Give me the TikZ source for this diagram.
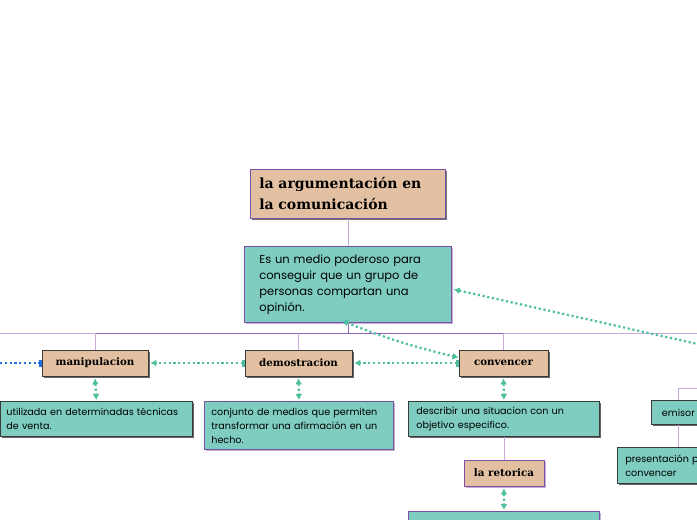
\documentclass[tikz,border=0pt]{standalone}
\usepackage{fontspec}
\setmainfont{Poppins}
\newfontfamily\slabfont{DejaVu Serif}
\usepackage{tikz}
\usetikzlibrary{arrows.meta,shadows}
\definecolor{beige}{HTML}{E2C0A1}
\definecolor{verdeagua}{HTML}{7ECDC0}
\definecolor{enlaceverde}{HTML}{4DBF9F}
\definecolor{morado}{HTML}{7B4FA6}
\definecolor{moradoclaro}{HTML}{C9A9DC}
\definecolor{moradoosc}{HTML}{9063B8}
\definecolor{grisosc}{HTML}{3A3A3A}
\definecolor{azulpunto}{HTML}{1F6FE0}
\tikzset{
  sombra/.style={drop shadow={shadow xshift=2pt,shadow yshift=-2pt,fill=#1,opacity=1}},
  temabox/.style={draw=morado,fill=beige,line width=0.8pt,sombra=black!55,
    font=\slabfont\bfseries\fontsize{14}{21}\selectfont,align=left},
  subtema/.style={draw=grisosc,fill=beige,line width=0.8pt,sombra=black!60,
    font=\slabfont\bfseries\fontsize{10.3}{12}\selectfont,minimum height=26pt,inner sep=0pt},
  notabox/.style={draw=grisosc,fill=verdeagua,line width=0.8pt,sombra=black!60,
    font=\fontsize{9.6}{14}\selectfont,align=left,anchor=north west},
  notamorada/.style={notabox,draw=morado,sombra=morado!45},
  rama/.style={moradoclaro,line width=0.8pt},
  ramaosc/.style={moradoosc,line width=0.8pt},
  enlace/.style={enlaceverde,line width=2.2pt,dash pattern=on 2.2pt off 2.6pt},
  punta/.tip={Latex[length=6pt,width=7pt]},
  barra/.tip={Bar[width=7pt,line width=2.5pt]},
}

\begin{document}
\begin{tikzpicture}[x=1pt,y=-1pt]
  \clip (0,0) rectangle (697,520);
  \fill[white] (0,0) rectangle (697,520);
  % nodos
  \node[temabox,anchor=north west,minimum height=49pt,text width=177pt,inner xsep=9pt] (titulo) at (250,169) {la argumentación en\\la comunicación};
  \node[notamorada,minimum height=76pt,text width=177pt,inner xsep=15pt,font=\fontsize{11.5}{16}\selectfont] (desc) at (244,246) {Es un medio poderoso para\\conseguir que un grupo de\\personas compartan una\\opinión.};
  \node[subtema,minimum width=106pt] (manip) at (95,363) {manipulacion};
  \node[subtema,minimum width=107pt] (demo) at (298.5,363) {demostracion};
  \node[subtema,minimum width=89pt] (conv) at (503.5,363) {convencer};
  \node[notabox,minimum height=35pt,text width=180pt,inner xsep=6pt] (nota1) at (0,401) {utilizada en determinadas técnicas\\de venta.};
  \node[notamorada,minimum height=48pt,text width=175pt,inner xsep=7pt] (nota2) at (204,401) {conjunto de medios que permiten\\transformar una afirmación en un\\hecho.};
  \node[notabox,minimum height=35pt,text width=175pt,inner xsep=8pt] (nota3) at (408,401) {describir una situacion con un\\objetivo especifico.};
  \node[subtema,draw=morado,sombra=morado!45,minimum width=80pt] (retorica) at (504,473) {la retorica};
  \node[notamorada,minimum height=40pt,text width=175pt,inner xsep=8pt] (nota4) at (408,511) {};
  \node[notabox,minimum width=54pt,minimum height=24pt,inner xsep=8pt] (emisor) at (651,400) {emisor};
  \node[notabox,minimum height=36pt,text width=106pt,inner xsep=8pt] (present) at (617,447) {presentación para\\convencer};
  % ramas
  \coordinate (lineaI) at (0,333);
  \coordinate (lineaD) at (697,333);
  \coordinate (ramaE) at (710,388);
  \draw[rama] (titulo.south -| desc.north) -- (desc.north);
  \draw[rama] (lineaI) -- (lineaD);
  \draw[ramaosc] (desc.south) -- (desc.south |- lineaI);
  \draw[ramaosc] (manip.north |- lineaI) -- (conv.north |- lineaI);
  \foreach \n in {manip,demo,conv}
    \draw[rama] (\n.north |- lineaI) -- (\n.north);
  \draw[rama] (nota3.south -| retorica.north) -- (retorica.north);
  \draw[rama] (emisor.north) |- (ramaE);
  \draw[rama] (emisor.south) -- (emisor.south |- present.north);
  % enlaces punteados
  \foreach \a/\b in {manip/nota1,demo/nota2,conv/nota3,retorica/nota4}
    \draw[enlace,{punta}-{punta}] ([yshift=-2pt]\a.south) -- ([yshift=1pt]\b.north);
  \coordinate (bordeI) at (0,363);
  \coordinate (bordeD) at (720,349);
  \draw[azulpunto,line width=2.2pt,dash pattern=on 2.2pt off 2.6pt,-{barra}] (bordeI) -- (manip.west);
  \draw[enlace,{barra}-{punta}] (demo.west) -- ([xshift=2pt]manip.east);
  \draw[enlace,{barra}-{punta}] (conv.west) -- ([xshift=2pt]demo.east);
  \draw[enlace,{punta}-{punta}] ([xshift=-6pt,yshift=2pt]desc.south) to[bend right=4] ([yshift=-8pt]conv.north west);
  \draw[enlace,{punta}-] ([xshift=2pt,yshift=-5pt]desc.east) -- (bordeD);
\end{tikzpicture}
\end{document}
